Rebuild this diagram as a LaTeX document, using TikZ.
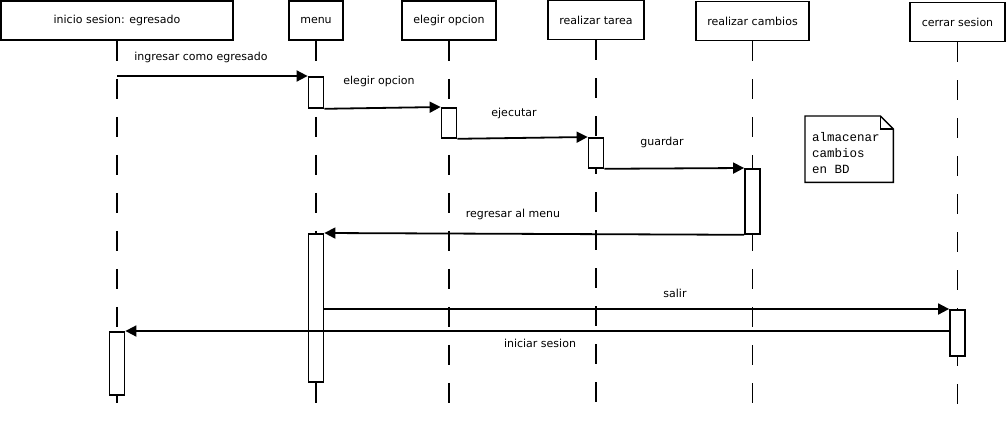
\documentclass[tikz,border=0pt]{standalone}
\usepackage{fontspec}
\setmainfont{DejaVu Sans}
\newfontfamily\notafont{Liberation Mono}
\usetikzlibrary{arrows.meta}
\tikzset{
    head/.style={draw, line width=1.8pt, minimum height=39pt, inner sep=0pt}, % 定义对象框的样式
    act/.style={draw, fill=white, line width=1.8pt, minimum width=15pt, inner sep=0pt}, % 定义激活条的样式
    lifeline/.style={line width=1.8pt, dash pattern=on 20pt off 18pt}, % 定义生命线的样式
    msg/.style={line width=1.8pt, -{Triangle[length=11pt, width=11pt]}}, % 定义消息箭头的样式
    lbl/.style={inner sep=0pt} % 定义消息文字的样式
}

\begin{document}
\begin{tikzpicture}[x=1pt, y=-1pt, font=\fontsize{11}{13}\selectfont]
            \useasboundingbox (0,0) rectangle (1008,420);
            \coordinate (fin) at (0,418);

            \node[head, minimum width=232pt] (h1) at (117,20.5) {inicio sesion: egresado};
            \node[head, minimum width=54pt] (h2) at (316,20.5) {menu};
            \node[head, minimum width=94pt] (h3) at (449,20.5) {elegir opcion};
            \node[head, minimum width=96pt] (h4) at (596,20) {realizar tarea};
            \node[head, minimum width=113pt] (h5) at (752.5,21) {realizar cambios};
            \node[head, minimum width=95pt] (h6) at (957.5,22) {cerrar sesion};

            \foreach \i in {1,...,6} {\draw[lifeline] (h\i.south) -- (h\i.south |- fin);}

            \foreach \n/\h/\a/\b in {m1/h2/76/107, e1/h3/107/137, t1/h4/137/167, c1/h5/168/233,
                m2/h2/233/381, s1/h6/309/355, i1/h1/331/394} {
                \node[act, minimum height={(\b-\a)*1pt}, anchor=north] (\n) at (\h.south |- 0,\a) {};}

            \draw[msg] (h1 |- m1.north west) -- (m1.north west);
            \draw[msg] (m1.south east) -- (e1.north west);
            \draw[msg] (e1.south east) -- (t1.north west);
            \draw[msg] (t1.south east) -- (c1.north west);
            \draw[msg] (c1.south west) -- (m2.north east);
            \draw[msg] (m2.east |- s1.north west) -- (s1.north west);
            \draw[msg] (s1.west |- i1.north east) -- (i1.north east);

            \node[lbl] (l1) at (201,57) {ingresar como egresado};
            \node[lbl] (l2) at (379,81) {elegir opcion};
            \node[lbl] (l3) at (514,113) {ejecutar};
            \node[lbl] (l4) at (662,142) {guardar};
            \node[lbl] (l5) at (513,214) {regresar al menu};
            \node[lbl] (l6) at (675,293) {salir};
            \node[lbl] (l7) at (540,343) {iniciar sesion};

            \node[minimum width=88pt, minimum height=66pt, anchor=north west, inner sep=0pt] (nt) at (805,116) {};
            \draw[line width=1.4pt] (nt.south west) -- (nt.north west) -- ([xshift=-13pt]nt.north east)
                -- ([yshift=-13pt]nt.north east) -- (nt.south east) -- cycle;
            \draw[line width=1.4pt] ([xshift=-13pt]nt.north east) |- ([yshift=-13pt]nt.north east);
            \node[align=left, inner sep=0pt, anchor=north west, font=\notafont\fontsize{12.5}{16}\selectfont]
                (ntx) at ([shift={(7pt,-16pt)}]nt.north west) {almacenar\\cambios\\en BD};
        \end{tikzpicture}
\end{document}
